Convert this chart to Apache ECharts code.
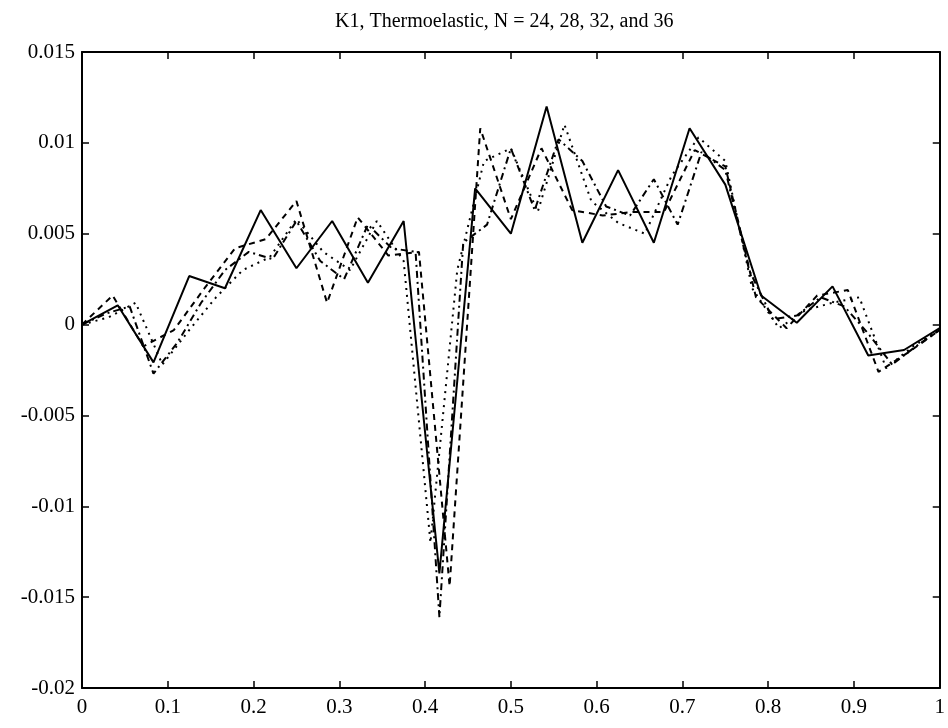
<!DOCTYPE html>
<html>
<head>
<meta charset="utf-8">
<script src="https://cdn.jsdelivr.net/npm/echarts@6/dist/echarts.min.js"></script>
<style>
html,body{margin:0;padding:0;background:#fff;}
#chart{width:948px;height:728px;}
</style>
</head>
<body>
<div id="chart"></div>
<script>
// ---- data ----
const titleText = 'K1, Thermoelastic, N = 24, 28, 32, and 36';
const xTicks = [0, 0.1, 0.2, 0.3, 0.4, 0.5, 0.6, 0.7, 0.8, 0.9, 1];
const yTicks = [-0.02, -0.015, -0.01, -0.005, 0, 0.005, 0.01, 0.015];

// N = 24 (solid), x = k/24
const n24 = [0, 0.00106, -0.00208, 0.00267, 0.0020, 0.0063, 0.0031, 0.0057, 0.0023, 0.0057,
  -0.0137, 0.0075, 0.0050, 0.0120, 0.0045, 0.0085, 0.0045, 0.0108, 0.0077, 0.0016,
  0.0001, 0.0021, -0.0017, -0.0014, -0.0002];
// N = 28 (dashed), x = k/28
const n28 = [0, 0.0016, -0.0012, -0.0003, 0.0020, 0.0042, 0.0047, 0.0068, 0.0012, 0.0059,
  0.0038, 0.0040, -0.0144, 0.0108, 0.0058, 0.0097, 0.0063, 0.0060, 0.0062, 0.0062,
  0.0096, 0.0087, 0.0015, -0.0002, 0.0016, 0.0019, -0.0026, -0.0015, -0.0003];
// N = 32 (dotted), x = k/32
const n32 = [0, 0.0004, 0.0012, -0.0022, -0.0003, 0.0015, 0.0030, 0.0037, 0.0058, 0.0040,
  0.0030, 0.0057, 0.0035, -0.0120, 0.0030, 0.0090, 0.0097, 0.0062, 0.0110, 0.0068,
  0.0056, 0.0050, 0.0082, 0.0103, 0.0090, 0.0020, -0.0002, 0.0008, 0.0012, 0.0015,
  -0.0024, -0.0012, -0.0003];
// N = 36 (dash-dot), x = k/36
const n36 = [0, 0.0006, 0.0010, -0.0027, -0.0010, 0.0012, 0.0030, 0.0040, 0.0036, 0.0057,
  0.0035, 0.0025, 0.0055, 0.0042, 0.0040, -0.0161, 0.0045, 0.0055, 0.0097, 0.0063,
  0.0102, 0.0090, 0.0065, 0.0060, 0.0080, 0.0055, 0.0095, 0.0085, 0.0030, 0.0003,
  0.0005, 0.0015, 0.0010, -0.0005, -0.0022, -0.0012, -0.0003];

function toXY(arr) {
  const n = arr.length - 1;
  return arr.map((v, k) => [k / n, v]);
}

const chart = echarts.init(document.getElementById('chart'), null, {renderer: 'canvas'});
const font = 'Liberation Serif';
const axisCommon = {
  axisLine: {show: true, onZero: false, lineStyle: {color: '#000', width: 2}},
  axisTick: {show: true, inside: true, length: 7, lineStyle: {color: '#000', width: 1.5}},
  splitLine: {show: false}
};
function fmt(v) {
  return String(Math.round(v * 1000) / 1000);
}
const lineBase = {type: 'line', symbol: 'none', animation: false, clip: true};

chart.setOption({
  backgroundColor: '#fff',
  animation: false,
  title: {
    text: titleText,
    left: 330, top: 7,
    textStyle: {fontFamily: font, fontSize: 20, fontWeight: 'normal', color: '#000'}
  },
  grid: {left: 82, right: 2, top: 52, bottom: 40},
  xAxis: [
    Object.assign({type: 'value', min: 0, max: 1, interval: 0.1, position: 'bottom',
      axisLabel: {fontFamily: font, fontSize: 21, color: '#000', margin: 9, formatter: fmt}}, axisCommon),
    Object.assign({type: 'value', min: 0, max: 1, interval: 0.1, position: 'top',
      axisLabel: {show: false}}, axisCommon)
  ],
  yAxis: [
    Object.assign({type: 'value', min: -0.02, max: 0.015, interval: 0.005, position: 'left',
      axisLabel: {fontFamily: font, fontSize: 21, color: '#000', margin: 7, formatter: fmt}}, axisCommon),
    Object.assign({type: 'value', min: -0.02, max: 0.015, interval: 0.005, position: 'right',
      axisLabel: {show: false}}, axisCommon)
  ],
  series: [
    Object.assign({name: 'N=24', data: toXY(n24),
      lineStyle: {color: '#000', width: 2, type: 'solid'}}, lineBase),
    Object.assign({name: 'N=28', data: toXY(n28),
      lineStyle: {color: '#000', width: 2, type: [6, 5]}}, lineBase),
    Object.assign({name: 'N=32', data: toXY(n32),
      lineStyle: {color: '#000', width: 2, type: [2, 5]}}, lineBase),
    Object.assign({name: 'N=36', data: toXY(n36),
      lineStyle: {color: '#000', width: 2, type: [7, 4, 2, 4]}}, lineBase)
  ]
});
</script>
</body>
</html>
